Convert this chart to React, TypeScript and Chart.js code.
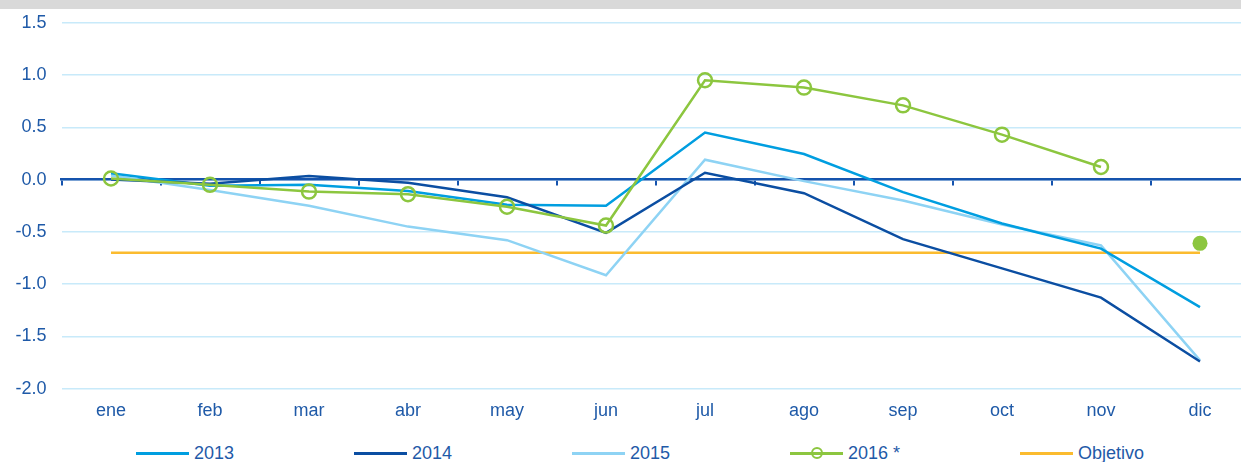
import React, { useEffect, useRef } from "react";
import { Chart, registerables } from "chart.js";

Chart.register(...registerables);

const months = ["ene", "feb", "mar", "abr", "may", "jun", "jul", "ago", "sep", "oct", "nov", "dic"];
const s2013 = [0.06, -0.06, -0.05, -0.11, -0.24, -0.25, 0.45, 0.245, -0.12, -0.42, -0.66, -1.22];
const s2014 = [0.0, -0.04, 0.035, -0.03, -0.17, -0.51, 0.065, -0.13, -0.57, -0.85, -1.13, -1.74];
const s2015 = [0.04, -0.1, -0.25, -0.45, -0.58, -0.915, 0.19, -0.015, -0.2, -0.43, -0.63, -1.73];
const s2016 = [0.01, -0.05, -0.115, -0.14, -0.26, -0.44, 0.95, 0.88, 0.71, 0.43, 0.12, null];
const s2016Est = [null, null, null, null, null, null, null, null, null, null, null, -0.61];
const objetivo = [-0.7, -0.7, -0.7, -0.7, -0.7, -0.7, -0.7, -0.7, -0.7, -0.7, -0.7, -0.7];
const yMin = -2;
const yMax = 1.5;
const yStep = 0.5;

const C2013 = "#009ee0";
const C2014 = "#0b4ea2";
const C2015 = "#8ed3f4";
const C2016 = "#8cc63f";
const COBJ = "#fbbb2f";
const TEXT = "#1f5aa8";
const GRID = "#c8eafa";
const AXIS = "#1553ad";
const FONT = 'Arial, "Liberation Sans", sans-serif';

const legendItems = [
  { label: "2013", color: C2013, marker: false },
  { label: "2014", color: C2014, marker: false },
  { label: "2015", color: C2015, marker: false },
  { label: "2016 *", color: C2016, marker: true },
  { label: "Objetivo", color: COBJ, marker: false },
];

export default function App() {
  const ref = useRef<HTMLCanvasElement | null>(null);

  useEffect(() => {
    if (!ref.current) return;
    const chart = new Chart(ref.current, {
      type: "line",
      data: {
        labels: months,
        datasets: [
          {
            label: "2016 *",
            data: s2016,
            borderColor: C2016,
            borderWidth: 2.5,
            pointRadius: 7,
            pointBorderWidth: 2.5,
            pointBorderColor: C2016,
            pointBackgroundColor: "rgba(0,0,0,0)",
            tension: 0,
            order: 0,
          },
          {
            label: "2016 estimado",
            data: s2016Est,
            borderColor: C2016,
            backgroundColor: C2016,
            pointRadius: 7.5,
            pointBorderWidth: 0,
            pointBackgroundColor: C2016,
            showLine: false,
            order: 0,
          },
          { label: "2013", data: s2013, borderColor: C2013, borderWidth: 2.5, pointRadius: 0, tension: 0, order: 2 },
          { label: "2014", data: s2014, borderColor: C2014, borderWidth: 2.5, pointRadius: 0, tension: 0, order: 1 },
          { label: "2015", data: s2015, borderColor: C2015, borderWidth: 2.5, pointRadius: 0, tension: 0, order: 3 },
          { label: "Objetivo", data: objetivo, borderColor: COBJ, borderWidth: 2.5, pointRadius: 0, tension: 0, order: 4 },
        ],
      },
      options: {
        animation: false,
        responsive: false,
        devicePixelRatio: 1,
        layout: { padding: { top: 19, right: 30.5, bottom: 0, left: 0 } },
        plugins: { legend: { display: false }, tooltip: { enabled: false } },
        scales: {
          x: {
            type: "category",
            offset: true,
            grid: { display: false, drawTicks: false },
            border: { display: false },
            ticks: { color: TEXT, font: { size: 18, family: FONT }, padding: 12, maxRotation: 0, autoSkip: false },
            afterFit: (s: any) => {
              s.height = 41.4;
            },
          },
          x2: {
            type: "category",
            axis: "x",
            position: { y: 0 },
            offset: true,
            grid: { display: true, drawOnChartArea: false, drawTicks: true, tickLength: 5, offset: true, color: AXIS, lineWidth: 2 },
            border: { display: true, color: AXIS, width: 2.5 },
            ticks: { display: false },
          },
          y: {
            min: yMin,
            max: yMax,
            ticks: {
              stepSize: yStep,
              color: TEXT,
              font: { size: 18, family: FONT },
              padding: 15,
              callback: (v: any) => Number(v).toFixed(1),
            },
            grid: { color: GRID, lineWidth: 1.5, drawTicks: false },
            border: { display: false },
            afterFit: (s: any) => {
              s.width = 61.5;
            },
          },
        },
      } as any,
    });
    return () => chart.destroy();
  }, []);

  return (
    <div style={{ position: "absolute", top: 0, left: 0, width: 1241, height: 462, overflow: "hidden", background: "#fff" }}>
      <canvas ref={ref} width={1280} height={433} style={{ position: "absolute", top: -3, left: 0, width: 1280, height: 433 }} />
      <div style={{ position: "absolute", top: 0, left: 0, width: 1241, height: 9, background: "#d9d9d9" }} />
      <div
        style={{
          position: "absolute",
          top: 441,
          left: 0,
          width: 1280,
          height: 24,
          display: "flex",
          justifyContent: "center",
          alignItems: "center",
          gap: 120,
          fontFamily: FONT,
          fontSize: 18,
          color: TEXT,
        }}
      >
        {legendItems.map((it) => (
          <div key={it.label} style={{ display: "flex", alignItems: "center", whiteSpace: "nowrap" }}>
            <span style={{ position: "relative", display: "inline-block", width: 53, height: 3, background: it.color, marginRight: 5 }}>
              {it.marker ? (
                <span
                  style={{
                    position: "absolute",
                    left: 20.5,
                    top: -4.5,
                    width: 12,
                    height: 12,
                    borderRadius: "50%",
                    border: `2.5px solid ${it.color}`,
                    boxSizing: "border-box",
                    background: "transparent",
                  }}
                />
              ) : null}
            </span>
            <span style={{ lineHeight: "24px" }}>{it.label}</span>
          </div>
        ))}
      </div>
    </div>
  );
}
